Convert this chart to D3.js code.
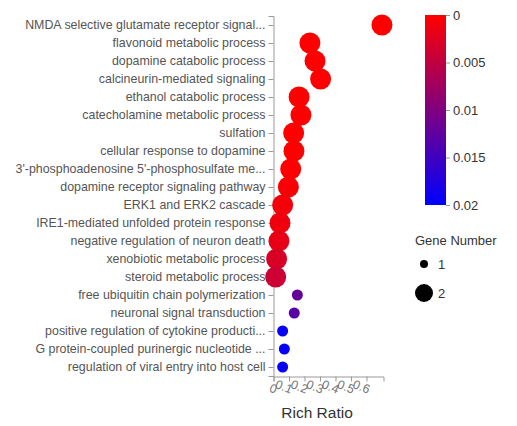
<!DOCTYPE html>
<html><head><meta charset="utf-8">
<script src="https://cdn.jsdelivr.net/npm/d3@7"></script>
<style>body{margin:0;background:#fff}svg{display:block}text{font-family:"Liberation Sans",Arial,sans-serif}</style>
</head><body>
<svg id="c" width="517" height="426"></svg>
<script>
const terms = [
  "NMDA selective glutamate receptor signal...",
  "flavonoid metabolic process",
  "dopamine catabolic process",
  "calcineurin-mediated signaling",
  "ethanol catabolic process",
  "catecholamine metabolic process",
  "sulfation",
  "cellular response to dopamine",
  "3'-phosphoadenosine 5'-phosphosulfate me...",
  "dopamine receptor signaling pathway",
  "ERK1 and ERK2 cascade",
  "IRE1-mediated unfolded protein response",
  "negative regulation of neuron death",
  "xenobiotic metabolic process",
  "steroid metabolic process",
  "free ubiquitin chain polymerization",
  "neuronal signal transduction",
  "positive regulation of cytokine producti...",
  "G protein-coupled purinergic nucleotide ...",
  "regulation of viral entry into host cell"
];
const richRatio = [0.70,0.235,0.268,0.304,0.165,0.177,0.13,0.132,0.111,0.096,0.059,0.042,0.035,0.02,0.014,0.154,0.134,0.059,0.07,0.059];
const geneNumber = [2,2,2,2,2,2,2,2,2,2,2,2,2,2,2,1,1,1,1,1];
const qValue = [0,0,0,0,0,0,0,0,0,0.0005,0.0008,0.0012,0.0018,0.003,0.004,0.012,0.013,0.0195,0.0195,0.0195];
const xTicks = [0,0.1,0.2,0.3,0.4,0.5,0.6];
const colorTicks = [0,0.005,0.01,0.015,0.02];
const legendSizes = [1,2];

const svg = d3.select("#c");
const x = d3.scaleLinear().domain([0,0.71]).range([273.5,383.5]);
const y = d3.scalePoint().domain(terms).range([16,376]).padding(0.5);
const r = d3.scaleLinear().domain([1,2]).range([5.5,10.5]);
const color = d3.scaleLinear().domain([0,0.02]).range(["#ff0000","#0000ff"]).interpolate(d3.interpolateRgb);

// y axis
const ya = svg.append("g").attr("transform","translate(273.5,0)")
  .call(d3.axisLeft(y).tickSize(5).tickPadding(3));
ya.selectAll("text").attr("font-size","12.4px").attr("fill","#555");
ya.selectAll("line,path").attr("stroke","#999");

// x axis
const xa = svg.append("g").attr("transform","translate(0,376.5)")
  .call(d3.axisBottom(x).tickValues(xTicks).tickFormat(d3.format("~g")).tickSize(5).tickPadding(4));
xa.selectAll("line,path").attr("stroke","#999");
xa.selectAll("text").attr("font-size","12.5px").attr("fill","#777")
  .attr("text-anchor","end").attr("dy","0.6em")
  .attr("transform","rotate(22,0,9) translate(4,0)");

svg.append("text").attr("x",317).attr("y",418).attr("text-anchor","middle")
  .attr("font-size","15.5px").attr("fill","#333").text("Rich Ratio");

// bubbles
svg.append("g").selectAll("circle").data(terms).join("circle")
  .attr("cx",(d,i)=>x(richRatio[i]))
  .attr("cy",d=>y(d))
  .attr("r",(d,i)=>r(geneNumber[i]))
  .attr("fill",(d,i)=>color(qValue[i]));

// color bar
const defs = svg.append("defs");
const grad = defs.append("linearGradient").attr("id","g").attr("x1",0).attr("x2",0).attr("y1",0).attr("y2",1);
grad.append("stop").attr("offset","0%").attr("stop-color",color(0));
grad.append("stop").attr("offset","100%").attr("stop-color",color(0.02));
const cb = d3.scaleLinear().domain([0,0.02]).range([15,205]);
svg.append("rect").attr("x",425).attr("y",15).attr("width",21).attr("height",190).attr("fill","url(#g)");
const ca = svg.append("g").attr("transform","translate(446,0)")
  .call(d3.axisRight(cb).tickValues(colorTicks).tickFormat(d3.format("~g")).tickSize(4).tickPadding(3));
ca.select("path").remove();
ca.selectAll("line").attr("stroke","#999");
ca.selectAll("text").attr("font-size","13px").attr("fill","#333");

// size legend
svg.append("text").attr("x",415).attr("y",245).attr("font-size","13px").attr("fill","#333").text("Gene Number");
const lr = d3.scaleLinear().domain([1,2]).range([4,9]);
const ly = d3.scalePoint().domain(legendSizes).range([264,293]);
const lg = svg.append("g").selectAll("g").data(legendSizes).join("g")
  .attr("transform",d=>`translate(424,${ly(d)})`);
lg.append("circle").attr("r",d=>lr(d)).attr("fill","#000");
lg.append("text").attr("x",14).attr("dy","0.35em").attr("font-size","13px").attr("fill","#333").text(d=>d);
</script>
</body></html>
